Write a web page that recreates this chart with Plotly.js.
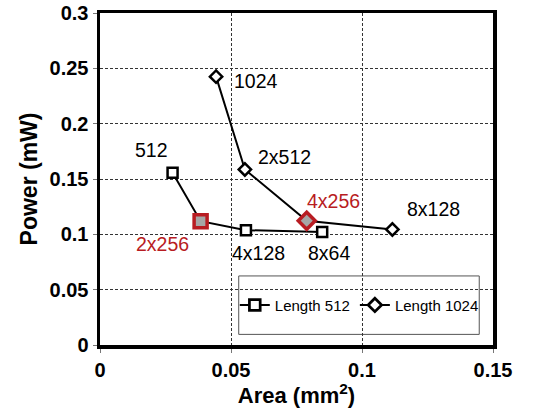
<!DOCTYPE html>
<html><head><meta charset="utf-8">
<script src="https://cdn.plot.ly/plotly-3.0.1.min.js"></script>
<style>html,body{margin:0;padding:0;background:#fff}#chart{width:549px;height:408px}</style>
</head><body><div id="chart"></div>
<script>
// Length 512 series
const area512 = [0.0277, 0.0384, 0.0557, 0.0848];
const power512 = [0.1556, 0.1119, 0.1038, 0.1020];
const labels512 = ["512", "2x256", "4x128", "8x64"];
// Length 1024 series
const area1024 = [0.0443, 0.0553, 0.0789, 0.1116];
const power1024 = [0.2425, 0.1586, 0.1123, 0.1044];
const labels1024 = ["1024", "2x512", "4x256", "8x128"];
// highlighted (chosen) configurations
const highlight512 = "2x256";
const highlight1024 = "4x256";
// axis ticks
const xTicks = [0, 0.05, 0.1, 0.15];
const xTickText = ["0", "0.05", "0.1", "0.15"];
const yTicks = [0, 0.05, 0.1, 0.15, 0.2, 0.25, 0.3];
const yTickText = ["0", "0.05", "0.1", "0.15", "0.2", "0.25", "0.3"];

const RED = "#b81c22";
const font = "Arial, 'Liberation Sans', sans-serif";

function markerStyle(labels, hl, base, hlSize) {
  return {
    opacity: 1,
    size: labels.map(l => l === hl ? hlSize : base),
    color: labels.map(l => l === hl ? "#a6a6a6" : "#ffffff"),
    line: { width: labels.map(l => l === hl ? 3.5 : 2.5), color: labels.map(l => l === hl ? RED : "#000000") }
  };
}

const traces = [
  { x: area512, y: power512, name: "Length 512", type: "scatter", mode: "lines+markers",
    line: { color: "#000", width: 2 }, marker: Object.assign({ symbol: "square" }, markerStyle(labels512, highlight512, 10, 13)) },
  { x: area1024, y: power1024, name: "Length 1024", type: "scatter", mode: "lines+markers",
    line: { color: "#000", width: 2 }, marker: Object.assign({ symbol: "diamond" }, markerStyle(labels1024, highlight1024, 9.5, 13)) }
];

// label offsets in pixels (style only)
const shifts512 = [[-21, 23], [-38, -23], [13, -23], [7, -21]];
const shifts1024 = [[40, -4], [40, 12], [27, 20], [41, 20]];
const annotations = [];
labels512.forEach((l, i) => annotations.push({ x: area512[i], y: power512[i], xref: "x", yref: "y", text: l, showarrow: false,
  xshift: shifts512[i][0], yshift: shifts512[i][1], font: { family: font, size: 19.5, color: l === highlight512 ? RED : "#000" } }));
labels1024.forEach((l, i) => annotations.push({ x: area1024[i], y: power1024[i], xref: "x", yref: "y", text: l, showarrow: false,
  xshift: shifts1024[i][0], yshift: shifts1024[i][1], font: { family: font, size: 19.5, color: l === highlight1024 ? RED : "#000" } }));

const bold = a => a.map(t => "<b>" + t + "</b>");

const layout = {
  width: 549, height: 408,
  margin: { l: 100, r: 56, t: 13, b: 63 },
  paper_bgcolor: "#fff", plot_bgcolor: "#fff",
  showlegend: true,
  legend: { orientation: "h", x: 0.343, y: 0.12, xanchor: "left", yanchor: "middle",
    borderwidth: 0, bgcolor: "rgba(0,0,0,0)",
    font: { family: font, size: 15, color: "#000" }, itemwidth: 30 },
  shapes: [{ type: "rect", xref: "paper", yref: "paper", x0: 0.353, x1: 0.965, y0: 0.032, y1: 0.208,
    line: { color: "#555", width: 1 }, fillcolor: "#fff", layer: "below" }],
  xaxis: { range: [0, 0.15], tickvals: xTicks, ticktext: bold(xTickText),
    showgrid: true, gridcolor: "#333", griddash: "3px,2px", gridwidth: 1,
    showline: true, linecolor: "#000", linewidth: 3.5, mirror: true, zeroline: false,
    ticks: "outside", ticklen: 4, tickcolor: "#777",
    tickfont: { family: font, size: 20, color: "#000" },
    title: { text: "<b>Area (mm<sup>2</sup>)</b>", font: { family: font, size: 22, color: "#000" }, standoff: 4 } },
  yaxis: { range: [0, 0.3], tickvals: yTicks, ticktext: bold(yTickText),
    showgrid: true, gridcolor: "#333", griddash: "3px,2px", gridwidth: 1,
    showline: true, linecolor: "#000", linewidth: 3.5, mirror: true, zeroline: false,
    ticks: "outside", ticklen: 4, tickcolor: "#777",
    tickfont: { family: font, size: 20, color: "#000" },
    title: { text: "<b>Power (mW)</b>", font: { family: font, size: 23, color: "#000" }, standoff: 6 } },
  annotations: annotations
};

Plotly.newPlot("chart", traces, layout, { staticPlot: true, displayModeBar: false });
</script></body></html>
